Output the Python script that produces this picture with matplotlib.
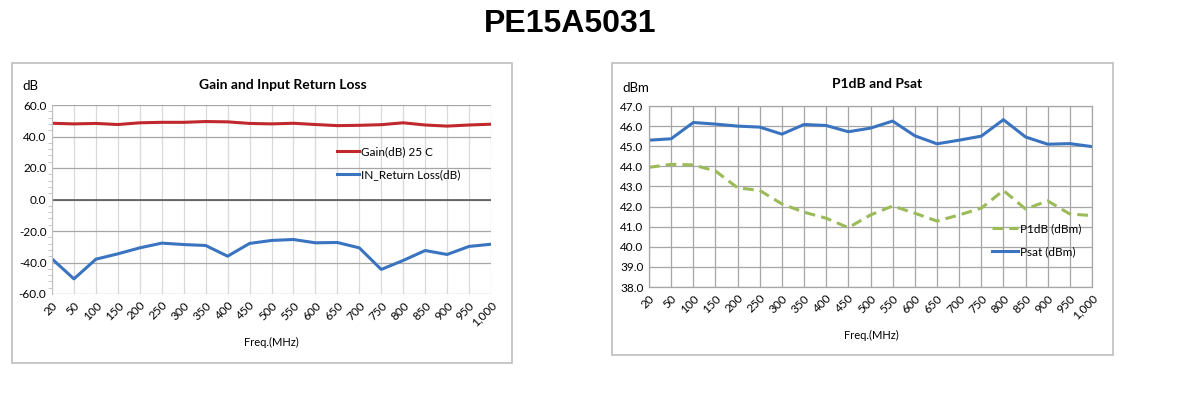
import matplotlib
matplotlib.use("Agg")
import matplotlib.pyplot as plt
from matplotlib.patches import Rectangle
from matplotlib.ticker import MultipleLocator, FormatStrFormatter
import numpy as np

plt.rcParams['font.family'] = ['Lato', 'DejaVu Sans']

# data
freqs = ['20', '50', '100', '150', '200', '250', '300', '350', '400', '450', '500',
         '550', '600', '650', '700', '750', '800', '850', '900', '950', '1,000']
gain = [48.4, 48.0, 48.3, 47.6, 48.7, 49.0, 49.0, 49.5, 49.3, 48.3, 48.0,
        48.4, 47.6, 46.9, 47.1, 47.5, 48.7, 47.3, 46.6, 47.3, 47.8]
return_loss = [-37.7, -50.4, -37.9, -34.5, -30.7, -27.7, -28.6, -29.2, -36.0, -27.9, -26.0,
               -25.4, -27.5, -27.3, -30.7, -44.4, -38.7, -32.4, -34.9, -29.8, -28.4]
p1db = [43.95, 44.1, 44.07, 43.77, 42.93, 42.8, 42.13, 41.72, 41.42, 40.95, 41.58,
        42.03, 41.67, 41.28, 41.58, 41.92, 42.8, 41.88, 42.28, 41.63, 41.55]
psat = [45.3, 45.37, 46.18, 46.1, 46.0, 45.95, 45.6, 46.08, 46.03, 45.72, 45.9,
        46.25, 45.52, 45.12, 45.3, 45.5, 46.32, 45.46, 45.1, 45.13, 44.98]

red = '#C0282D'
blue = '#3A74C0'
green = '#9BBB59'

W, H = 1189, 398
fig = plt.figure(figsize=(W / 100, H / 100), dpi=100)

def fx(px):
    return px / W

def fy(py):
    return 1 - py / H

fig.text(fx(570), fy(24), 'PE15A5031', ha='center', va='center', fontsize=23,
         fontweight='bold', family='Liberation Sans')

# panel frames
fig.patches.append(Rectangle((fx(12), fy(363)), fx(500), 300 / H, transform=fig.transFigure,
                             fill=False, edgecolor='#BFBFBF', linewidth=1.2))
fig.patches.append(Rectangle((fx(612), fy(355)), fx(501), 292 / H, transform=fig.transFigure,
                             fill=False, edgecolor='#BFBFBF', linewidth=1.2))

x = np.arange(len(freqs))

# ---- left chart
ax1 = fig.add_axes([fx(52), fy(294), fx(491 - 52), (294 - 105) / H])
ax1.plot(x, gain, color=red, lw=2.2, label='Gain(dB) 25 C')
ax1.plot(x, return_loss, color=blue, lw=2.2, label='IN_Return Loss(dB)')
ax1.axhline(0, color='#595959', lw=1.2, zorder=1)
ax1.set_xlim(0, len(freqs) - 1)
ax1.set_ylim(-60, 60)
ax1.yaxis.set_major_locator(MultipleLocator(20))
ax1.yaxis.set_minor_locator(MultipleLocator(4))
ax1.yaxis.set_major_formatter(FormatStrFormatter('%.1f'))
ax1.set_xticks(x)
ax1.set_xticklabels(freqs, rotation=45, ha='right', rotation_mode='anchor')
ax1.tick_params(axis='x', length=0, labelsize=8.5, pad=4)
ax1.tick_params(axis='y', which='major', length=0, labelsize=8.5, pad=4)
ax1.tick_params(axis='y', which='minor', length=3, color='#BFBFBF', direction='out')
ax1.grid(axis='y', which='major', color='#A6A6A6', lw=0.9)
ax1.grid(axis='x', color='#D9D9D9', lw=0.9)
for s in ['top', 'right', 'bottom']:
    ax1.spines[s].set_visible(False)
ax1.spines['left'].set_color('#BFBFBF')
ax1.set_axisbelow(True)
ax1.legend(loc='upper left', bbox_to_anchor=(0.625, 0.84), frameon=False, fontsize=8.5,
           handlelength=1.9, handletextpad=0.1, labelspacing=1.0)
fig.text(fx(30), fy(86), 'dB', ha='center', va='center', fontsize=9.5)
fig.text(fx(283), fy(85), 'Gain and Input Return Loss', ha='center', va='center',
         fontsize=10, fontweight='bold')
fig.text(fx(271), fy(342), 'Freq.(MHz)', ha='center', va='center', fontsize=8)

# ---- right chart
ax2 = fig.add_axes([fx(649), fy(287), fx(1092 - 649), (287 - 106) / H])
ax2.plot(x, p1db, color=green, lw=2.2, ls=(0, (3.5, 2)), label='P1dB (dBm)')
ax2.plot(x, psat, color=blue, lw=2.2, label='Psat (dBm)')
ax2.set_xlim(0, len(freqs) - 1)
ax2.set_ylim(38, 47)
ax2.yaxis.set_major_locator(MultipleLocator(1))
ax2.yaxis.set_major_formatter(FormatStrFormatter('%.1f'))
ax2.set_xticks(x)
ax2.set_xticklabels(freqs, rotation=45, ha='right', rotation_mode='anchor')
ax2.tick_params(axis='both', length=0, labelsize=8.5, pad=4)
ax2.grid(color='#A6A6A6', lw=0.9)
for s in ax2.spines.values():
    s.set_color('#A6A6A6')
    s.set_linewidth(0.9)
ax2.set_axisbelow(True)
ax2.legend(loc='upper left', bbox_to_anchor=(0.75, 0.41), frameon=False, fontsize=8.5,
           handlelength=2.2, handletextpad=0.2, labelspacing=1.0)
fig.text(fx(636), fy(88), 'dBm', ha='center', va='center', fontsize=9.5)
fig.text(fx(877), fy(84), 'P1dB and Psat', ha='center', va='center',
         fontsize=10, fontweight='bold')
fig.text(fx(871), fy(335), 'Freq.(MHz)', ha='center', va='center', fontsize=8)

fig.savefig('out.png', dpi=100)
